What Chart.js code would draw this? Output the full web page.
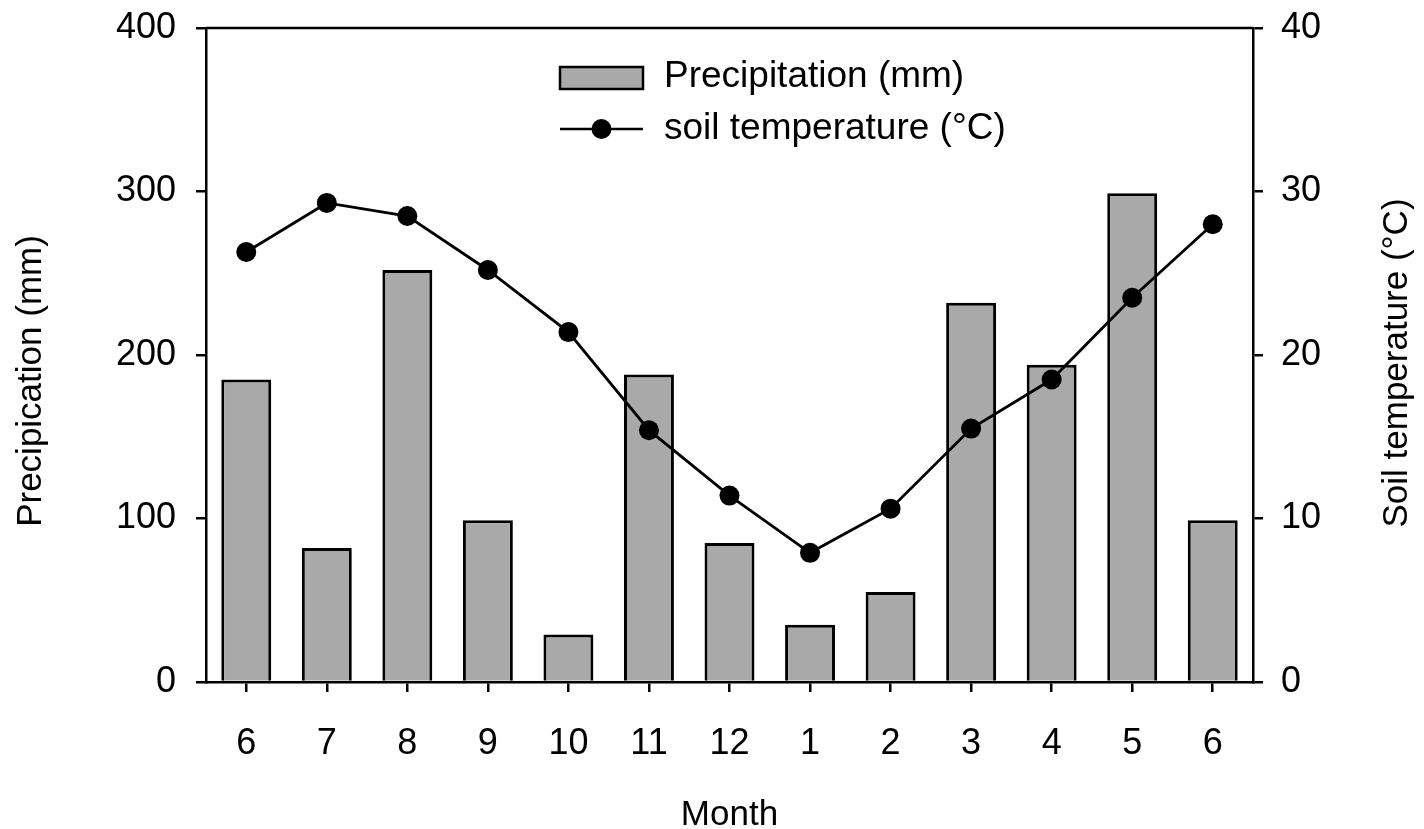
<!DOCTYPE html>
<html>
<head>
<meta charset="utf-8">
<title>Precipitation and soil temperature</title>
<script src="https://cdn.jsdelivr.net/npm/chart.js@4/dist/chart.umd.min.js"></script>
<style>
    html, body { margin: 0; padding: 0; background: #fff; }
    #wrap { width: 1424px; height: 829px; position: relative; }
</style>
</head>
<body>
<div id="wrap"><canvas id="climateChart"></canvas></div>
<script>
// Data
const months = ['6', '7', '8', '9', '10', '11', '12', '1', '2', '3', '4', '5', '6'];
const precipitation = [185, 82, 252, 99, 29, 188, 85, 35, 55, 232, 194, 299, 99];
const soilTemp = [26.3, 29.3, 28.5, 25.2, 21.4, 15.4, 11.4, 7.9, 10.6, 15.5, 18.5, 23.5, 28.0];
const precipTicks = [0, 100, 200, 300, 400];
const tempTicks = [0, 10, 20, 30, 40];

const FONT = 'Liberation Sans, Arial, sans-serif';
const barColor = '#a9a9a9';

function drawRotated(ctx, text, x, y) {
    ctx.save();
    ctx.translate(x, y);
    ctx.rotate(-Math.PI / 2);
    ctx.fillText(text, 0, 0);
    ctx.restore();
}

// Frame top line, axis titles and legend inside the plot
const extras = {
    id: 'extras',
    afterDraw(chart) {
        const { ctx, chartArea: a } = chart;
        ctx.save();
        ctx.strokeStyle = '#000';
        ctx.lineWidth = 2.5;
        ctx.beginPath();
        ctx.moveTo(a.left, a.top);
        ctx.lineTo(a.right, a.top);
        ctx.stroke();

        // y titles, both reading bottom to top
        ctx.fillStyle = '#000';
        ctx.font = '35px ' + FONT;
        ctx.textAlign = 'center';
        ctx.textBaseline = 'middle';
        drawRotated(ctx, chart.options.scales.y.title.text, 31, 381);
        drawRotated(ctx, chart.options.scales.y1.title.text, 1397, 363);
        ctx.restore();

        // legend
        const ds = chart.data.datasets;
        const lx = a.left + 354, lw = 83;
        ctx.save();
        ctx.font = '37px ' + FONT;
        ctx.textBaseline = 'middle';
        ctx.strokeStyle = '#000';
        ctx.lineWidth = 2.5;

        const bar = ds.find(d => d.type === 'bar');
        ctx.fillStyle = barColor;
        ctx.fillRect(lx, a.top + 39, lw, 22);
        ctx.strokeRect(lx, a.top + 39, lw, 22);
        ctx.fillStyle = '#000';
        ctx.fillText(bar.label, lx + 104, a.top + 49);

        const line = ds.find(d => d.type === 'line');
        const ly = a.top + 101;
        ctx.beginPath();
        ctx.moveTo(lx, ly);
        ctx.lineTo(lx + lw, ly);
        ctx.stroke();
        ctx.beginPath();
        ctx.arc(lx + lw / 2, ly, 10, 0, Math.PI * 2);
        ctx.fill();
        ctx.fillText(line.label, lx + 104, ly);
        ctx.restore();
    }
};

const axisGrid = {
    display: true,
    drawOnChartArea: false,
    drawTicks: true,
    tickLength: 10,
    color: '#000',
    lineWidth: 2.5
};
const axisBorder = { display: true, color: '#000', width: 2.5 };
const tickFont = { family: FONT, size: 36 };

function fixY(width) {
    return scale => {
        scale.width = width;
        scale.paddingTop = 0;
        scale.paddingBottom = 0;
    };
}

const chart = new Chart(document.getElementById('climateChart'), {
    data: {
        labels: months,
        datasets: [
            {
                type: 'line',
                label: 'soil temperature (°C)',
                data: soilTemp,
                yAxisID: 'y1',
                borderColor: '#000',
                borderWidth: 2.8,
                backgroundColor: '#000',
                pointRadius: 10,
                pointBorderWidth: 0,
                tension: 0,
                order: 0
            },
            {
                type: 'bar',
                label: 'Precipitation (mm)',
                data: precipitation,
                yAxisID: 'y',
                backgroundColor: barColor,
                borderColor: '#000',
                borderWidth: 3,
                barPercentage: 0.62,
                categoryPercentage: 1,
                order: 1
            }
        ]
    },
    options: {
        responsive: true,
        maintainAspectRatio: false,
        animation: false,
        layout: { padding: { top: 28, left: 0, right: 0, bottom: 0 } },
        plugins: {
            legend: { display: false },
            tooltip: { enabled: false }
        },
        scales: {
            x: {
                offset: true,
                grid: { ...axisGrid, offset: false },
                border: axisBorder,
                ticks: { color: '#000', font: tickFont, padding: 30, maxRotation: 0 },
                title: {
                    display: true,
                    text: 'Month',
                    color: '#000',
                    font: { family: FONT, size: 35 },
                    padding: { top: 0, bottom: -7 }
                },
                afterFit(scale) { scale.height = 147; }
            },
            y: {
                position: 'left',
                min: 0,
                max: 400,
                afterBuildTicks(scale) { scale.ticks = precipTicks.map(v => ({ value: v })); },
                grid: axisGrid,
                border: axisBorder,
                ticks: { color: '#000', font: tickFont, padding: 20 },
                title: { display: false, text: 'Precipication (mm)' },
                afterFit: fixY(206)
            },
            y1: {
                position: 'right',
                min: 0,
                max: 40,
                afterBuildTicks(scale) { scale.ticks = tempTicks.map(v => ({ value: v })); },
                grid: axisGrid,
                border: axisBorder,
                ticks: { color: '#000', font: tickFont, padding: 18 },
                title: { display: false, text: 'Soil temperature (°C)' },
                afterFit: fixY(171)
            }
        }
    },
    plugins: [extras]
});
</script>
</body>
</html>
